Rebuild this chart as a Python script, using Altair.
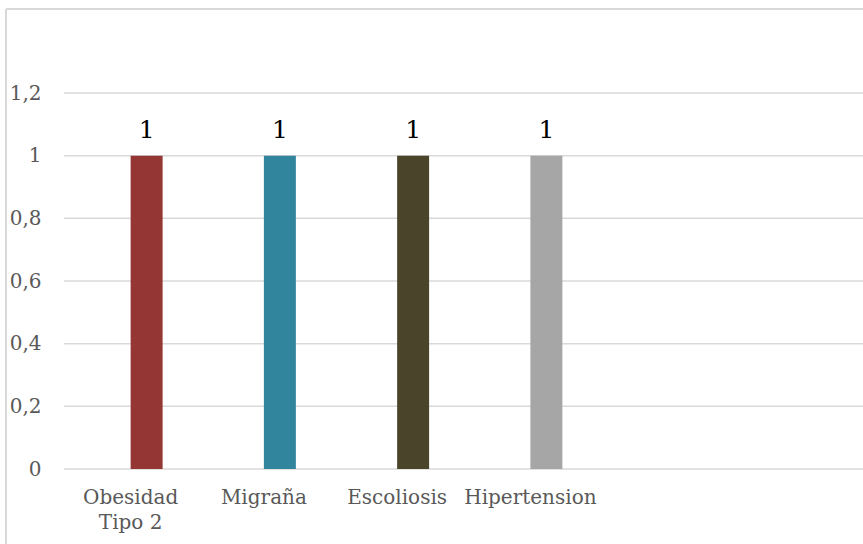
import altair as alt
import pandas as pd

# Conditions and their counts
categories = ["Obesidad Tipo 2", "Migraña", "Escoliosis", "Hipertension"]
counts = [1, 1, 1, 1]
colors = ["#943634", "#31859c", "#4a452a", "#a6a6a6"]
y_ticks = [0, 0.2, 0.4, 0.6, 0.8, 1.0, 1.2]

df = pd.DataFrame({"cat": categories, "n": counts})
grid_df = pd.DataFrame({"v": y_ticks})

SERIF = "DejaVu Serif"
GRID = "#d9d9d9"
W, H = 799, 376

y_scale = alt.Scale(domain=[0, 1.2], nice=False)

x_enc = alt.X(
    "cat:N",
    sort=categories,
    scale=alt.Scale(range=[16, 549], paddingInner=0.76, paddingOuter=0.38),
    axis=alt.Axis(
        title=None,
        labelAngle=0,
        labelFont=SERIF,
        labelFontSize=20,
        labelColor="#595959",
        labelPadding=18,
        labelLineHeight=25,
        labelOffset=-16,
        labelExpr="datum.label == 'Obesidad Tipo 2' ? ['Obesidad', 'Tipo 2'] : datum.label",
        ticks=False,
        domain=False,
        grid=False,
    ),
)

y_enc = alt.Y(
    "n:Q",
    scale=y_scale,
    axis=alt.Axis(
        title=None,
        values=y_ticks,
        labelExpr="replace(format(datum.value, '.1~f'), '.', ',')",
        labelFont=SERIF,
        labelFontSize=20,
        labelColor="#595959",
        labelPadding=23,
        ticks=False,
        domain=False,
        grid=False,
    ),
)

# Horizontal gridlines across the full plot width
grid = alt.Chart(grid_df).mark_rule(color=GRID, strokeWidth=1.5).encode(
    y=alt.Y("v:Q", scale=y_scale),
    x=alt.value(0),
    x2=alt.value(W),
)

bars = alt.Chart(df).mark_bar().encode(
    x=x_enc,
    y=y_enc,
    color=alt.Color("cat:N", scale=alt.Scale(domain=categories, range=colors), legend=None),
)

labels = alt.Chart(df).mark_text(
    font=SERIF, fontSize=25, color="#000000", baseline="alphabetic", dy=-18
).encode(x=alt.X("cat:N", sort=categories), y="n:Q", text="n:Q")

# Light frame around the whole chart
frame_top = alt.Chart(alt.Data(values=[{}])).mark_rule(color=GRID, strokeWidth=2).encode(
    x=alt.value(-58), x2=alt.value(900), y=alt.value(-84)
)
frame_left = alt.Chart(alt.Data(values=[{}])).mark_rule(color=GRID, strokeWidth=2).encode(
    x=alt.value(-58), y=alt.value(-84), y2=alt.value(500)
)

chart = (
    alt.layer(grid, bars, labels, frame_top, frame_left)
    .properties(
        width=W,
        height=H,
        autosize=alt.AutoSizeParams(type="none"),
        padding={"left": 64, "top": 93, "right": 0, "bottom": 75},
        background="white",
    )
    .configure_view(stroke=None)
)

chart.save("out.html", embed_options={"renderer": "svg", "actions": False})
